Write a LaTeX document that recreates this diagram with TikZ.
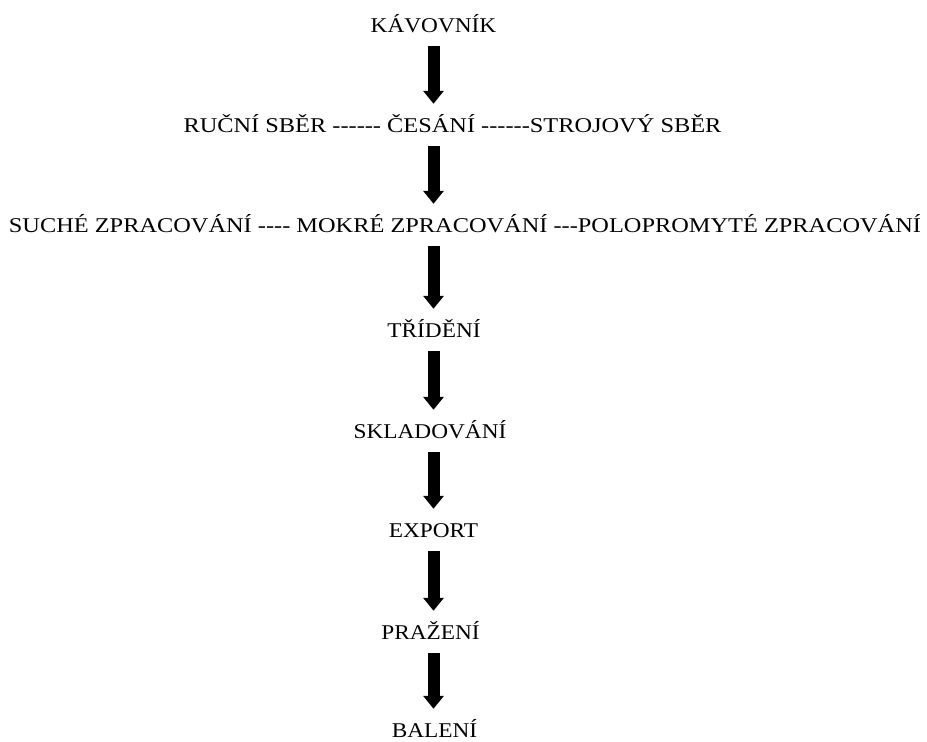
\documentclass[tikz,border=0pt]{standalone}
\usepackage{fontspec}
\setmainfont{Liberation Serif}[Ligatures=TeXOff]
\usetikzlibrary{arrows.meta}
\newcommand\widetxt[1]{\scalebox{1.11}[1]{#1}}
\newcommand\widertxt[1]{\scalebox{1.16}[1]{#1}}
\tikzset{
  lbl/.style={inner sep=0pt, anchor=base, text height=15pt, text depth=0pt, font=\fontsize{21}{24}\selectfont},
  blockarrow/.style={line width=12pt, -{Triangle[width=20pt,length=13pt]}, shorten <=14pt, shorten >=13pt}
}
\begin{document}
\begin{tikzpicture}[x=1pt,y=-1pt]
\useasboundingbox (0,0) rectangle (927,742);
\node[lbl] (kav) at (433.5,32) {\widetxt{KÁVOVNÍK}};
\node[lbl] (sber) at (452.5,132) {\widertxt{RUČNÍ SBĚR ------ ČESÁNÍ ------STROJOVÝ SBĚR}};
\node[lbl] (zprac) at (465,232) {\widertxt{SUCHÉ ZPRACOVÁNÍ ---- MOKRÉ ZPRACOVÁNÍ ---POLOPROMYTÉ ZPRACOVÁNÍ}};
\node[lbl] (trid) at (434,337) {\widetxt{TŘÍDĚNÍ}};
\node[lbl] (sklad) at (430,438) {\widetxt{SKLADOVÁNÍ}};
\node[lbl] (exp) at (433.5,537) {\widetxt{EXPORT}};
\node[lbl] (praz) at (430.5,639) {\widetxt{PRAŽENÍ}};
\node[lbl] (bal) at (434.5,737) {\widetxt{BALENÍ}};
\draw[blockarrow] (kav.south) -- (kav.south |- sber.north);
\draw[blockarrow] (kav.south |- sber.south) -- (kav.south |- zprac.north);
\draw[blockarrow] (kav.south |- zprac.south) -- (kav.south |- trid.north);
\draw[blockarrow] (kav.south |- trid.south) -- (kav.south |- sklad.north);
\draw[blockarrow] (kav.south |- sklad.south) -- (kav.south |- exp.north);
\draw[blockarrow] (kav.south |- exp.south) -- (kav.south |- praz.north);
\draw[blockarrow] (kav.south |- praz.south) -- (kav.south |- bal.north);
\end{tikzpicture}
\end{document}
